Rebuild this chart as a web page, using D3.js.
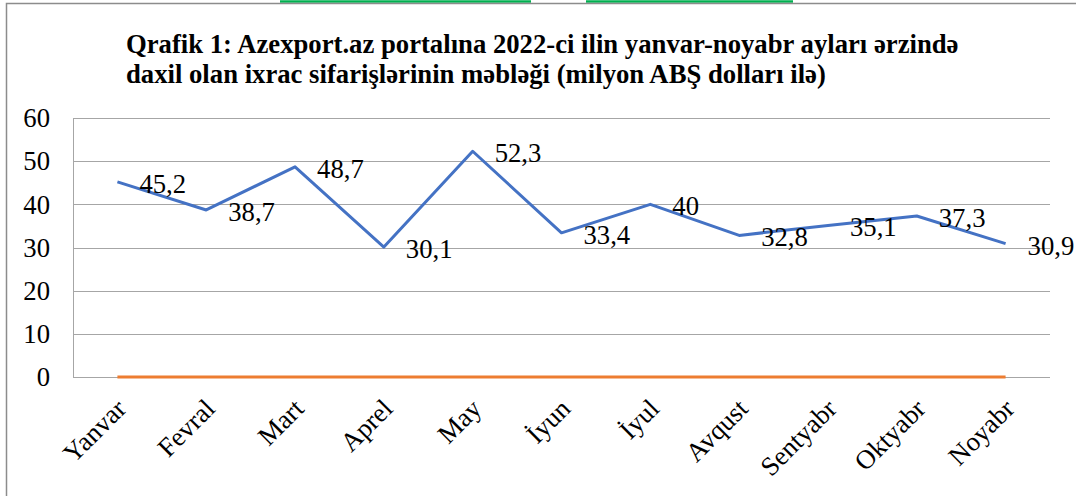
<!DOCTYPE html>
<html><head><meta charset="utf-8">
<script src="https://cdn.jsdelivr.net/npm/d3@7"></script>
<style>html,body{margin:0;padding:0;background:#fff;}svg{display:block;}</style>
</head><body>
<svg id="c" width="1076" height="496"></svg>
<script>
const months = ["Yanvar","Fevral","Mart","Aprel","May","İyun","İyul","Avqust","Sentyabr","Oktyabr","Noyabr"];
const values = [45.2,38.7,48.7,30.1,52.3,33.4,40,32.8,35.1,37.3,30.9];
const zeroSeries = [0,0,0,0,0,0,0,0,0,0,0];
const yTicks = [0,10,20,30,40,50,60];
const titleLines = ["Qrafik 1: Azexport.az portalına 2022-ci ilin yanvar-noyabr ayları ərzində",
                    "daxil olan ixrac sifarişlərinin məbləği (milyon ABŞ dolları ilə)"];

const svg = d3.select("#c");
const font = "'Liberation Serif','Times New Roman',serif";
const FS = 26.7;
const L = 73, R = 1050, T = 118, B = 377;

// green underline fragments at the very top (cut-off links)
svg.append("line").attr("x1",280).attr("x2",531).attr("y1",1.5).attr("y2",1.5).attr("stroke","#00b050").attr("stroke-width",2.5);
svg.append("line").attr("x1",586).attr("x2",793).attr("y1",1.5).attr("y2",1.5).attr("stroke","#00b050").attr("stroke-width",2.5);

// chart frame
svg.append("path").attr("d","M6.5,500 V3.5 H1080").attr("fill","none").attr("stroke","#8c8c8c").attr("stroke-width",1.5);

// title
svg.append("g").selectAll("text").data(titleLines).join("text")
  .attr("x",126).attr("y",(d,i)=>53+i*30)
  .attr("font-family",font).attr("font-weight","bold").attr("font-size",FS).attr("fill","#000")
  .text(d=>d);

const x = d3.scaleBand().domain(months).range([L,R]);
const y = d3.scaleLinear().domain([0,60]).range([B,T]);
const cx = m => x(m)+x.bandwidth()/2;

// gridlines
svg.append("g").selectAll("line").data(yTicks).join("line")
  .attr("x1",L).attr("x2",R).attr("y1",d=>Math.round(y(d))+0.5).attr("y2",d=>Math.round(y(d))+0.5)
  .attr("stroke","#a6a6a6").attr("stroke-width",1);
svg.append("line").attr("x1",L+0.5).attr("x2",L+0.5).attr("y1",y(60)).attr("y2",y(0)+0.5)
  .attr("stroke","#a6a6a6").attr("stroke-width",1);

// y axis labels
const yAxis = d3.axisLeft(y).tickValues(yTicks).tickSize(0).tickPadding(0).tickFormat(d3.format("d"));
const gy = svg.append("g").attr("transform",`translate(50,0)`).call(yAxis);
gy.select(".domain").remove();
gy.selectAll("text").attr("font-family",font).attr("font-size",FS).attr("fill","#000").attr("dy","0.33em");

// x axis labels
const xAxis = d3.axisBottom(x).tickSize(0).tickPadding(0);
const gx = svg.append("g").attr("transform",`translate(0,${B})`).call(xAxis);
gx.select(".domain").remove();
gx.selectAll("text").attr("font-family",font).attr("font-size",FS).attr("fill","#000")
  .attr("text-anchor","end").attr("dy",null).attr("y",0)
  .attr("transform","translate(4,27) rotate(-45)").attr("dominant-baseline","central");

// zero series (orange)
const line = d3.line().x((d,i)=>cx(months[i])).y(d=>y(d));
svg.append("path").datum(zeroSeries).attr("d",line).attr("fill","none")
  .attr("stroke","#ed7d31").attr("stroke-width",3);

// main series (blue)
svg.append("path").datum(values).attr("d",line).attr("fill","none")
  .attr("stroke","#4472c4").attr("stroke-width",3).attr("stroke-linejoin","round");

// data labels
svg.append("g").selectAll("text").data(values).join("text")
  .attr("x",(d,i)=>cx(months[i])+22).attr("y",d=>y(d)+2)
  .attr("dominant-baseline","central")
  .attr("font-family",font).attr("font-size",FS).attr("fill","#000")
  .text(d=>String(d).replace(".",","));
</script>
</body></html>
